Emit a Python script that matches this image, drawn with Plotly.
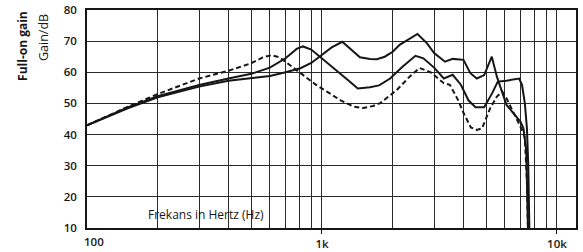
import plotly.graph_objects as go

# Curve A: solid, first peak ~820 Hz
freq_a = [100, 120, 150, 200, 250, 300, 400, 500, 600, 700, 780, 830, 900, 1000, 1100, 1200, 1300, 1420,
          1600, 1750, 1950, 2200, 2500, 2700, 3000, 3300, 3600, 3900, 4200, 4500, 4900, 5300, 5600, 6100,
          6500, 6900, 7100, 7300, 7450, 7550, 7650]
gain_a = [43, 45.5, 48.8, 52.3, 54.3, 55.9, 58, 59.5, 61.5, 64.5, 67.5, 68.3, 67.3, 64.5, 62, 59.7, 57.3, 54.8,
          55.2, 55.8, 58, 61.8, 65.3, 64.5, 61.5, 58, 59.2, 56, 51, 48.8, 48.8, 53.3, 57, 57.3,
          57.7, 58, 56, 50, 42, 30, 5]

# Curve B: solid, peaks ~1.2 kHz and ~2.5 kHz
freq_b = [100, 120, 150, 200, 250, 300, 400, 500, 600, 700, 810, 900, 980, 1100, 1220, 1300, 1450, 1600,
          1710, 1850, 2000, 2140, 2360, 2550, 2800, 3000, 3340, 3600, 4000, 4280, 4560, 4900, 5280, 5550,
          6100, 6600, 7000, 7200, 7400, 7550]
gain_b = [43, 45.5, 48.5, 52, 54, 55.4, 57.3, 58, 58.8, 60, 61.3, 63, 65, 68, 69.8, 68, 64.8, 64.3,
          64.2, 65, 66.6, 68.8, 70.9, 72.3, 69.3, 66.2, 63.4, 64.3, 64, 59.7, 58, 59.1, 65, 58.6,
          49.5, 46.3, 44.1, 42, 35, 5]

# Curve C: dashed, peak ~610 Hz
freq_c = [100, 120, 150, 200, 250, 300, 400, 500, 560, 610, 660, 710, 780, 860, 950, 1050, 1200, 1360,
          1500, 1650, 1770, 2080, 2360, 2600, 2900, 3300, 3500, 3800, 4000, 4300, 4560, 4800, 5200, 5550,
          5850, 6100, 6600, 7100, 7300, 7450, 7550]
gain_c = [43, 45.8, 49, 53, 55.8, 58, 60.5, 62.9, 64.8, 65.5, 64.8, 63, 60.5, 58, 55.8, 53.8, 51, 49,
          48.5, 49.2, 50.1, 54.3, 58.6, 61.4, 60, 56.5, 56, 51, 47, 42.3, 41.5, 42, 48.5, 52.2,
          53.8, 51.6, 46.3, 41.5, 39, 25, 5]

x_tickvals = [1000, 10000]
x_ticktext = ["1k", "10k"]
x_gridvals = [200, 300, 400, 500, 600, 700, 800, 900, 1000, 2000, 3000, 4000, 5000, 6000, 7000, 8000, 9000, 10000]
y_tickvals = [10, 20, 30, 40, 50, 60, 70, 80]

ink = "#161616"
fig = go.Figure()
fig.add_trace(go.Scatter(x=freq_a, y=gain_a, mode="lines", line=dict(color=ink, width=2), showlegend=False))
fig.add_trace(go.Scatter(x=freq_b, y=gain_b, mode="lines", line=dict(color=ink, width=2), showlegend=False))
fig.add_trace(go.Scatter(x=freq_c, y=gain_c, mode="lines", line=dict(color=ink, width=2, dash="5px,3px"),
                         showlegend=False))

font = "Open Sans"
fig.update_layout(
    width=583, height=252,
    margin=dict(l=87, r=7, t=10, b=24, autoexpand=False),
    paper_bgcolor="white", plot_bgcolor="white",
    xaxis=dict(type="log", range=[2, 4.081], tickvals=x_tickvals, ticktext=x_ticktext,
               showgrid=True, gridcolor="#2a2a2a", gridwidth=1, automargin=False,
               minor=dict(tickvals=x_gridvals, showgrid=True, gridcolor="#2a2a2a", gridwidth=1),
               ticks="outside", ticklen=4, tickcolor=ink,
               showline=True, linecolor=ink, linewidth=1.5, mirror=True,
               tickfont=dict(family=font, size=11.5, color=ink, weight=600), zeroline=False),
    yaxis=dict(range=[10, 80], tickvals=y_tickvals, showgrid=True, gridcolor="#2a2a2a", gridwidth=1,
               showline=True, linecolor=ink, linewidth=1.5, mirror=True, ticks="", automargin=False,
               ticklabelstandoff=6,
               tickfont=dict(family=font, size=11.5, color=ink, weight=600), zeroline=False),
    shapes=[dict(type="rect", xref="paper", yref="paper", x0=0.003, x1=0.36, y0=0.006, y1=0.137,
                 fillcolor="white", line=dict(width=0), layer="between")],
    annotations=[
        dict(text="Frekans in Hertz (Hz)", xref="paper", yref="paper", x=0.244, y=0.064,
             xanchor="center", yanchor="middle",
             showarrow=False, font=dict(family=font, size=12, color=ink)),
        dict(text="100", xref="paper", yref="paper", x=0.0, y=0, xshift=7, yshift=-13,
             xanchor="center", yanchor="middle", showarrow=False,
             font=dict(family=font, size=11.5, color=ink, weight=600)),
        dict(text="Full-on gain", xref="paper", yref="paper", x=-0.131, y=0.835, textangle=-90,
             xanchor="center", yanchor="middle",
             showarrow=False, font=dict(family=font, size=12, color=ink, weight=700)),
        dict(text="Gain/dB", xref="paper", yref="paper", x=-0.09, y=0.876, textangle=-90,
             xanchor="center", yanchor="middle",
             showarrow=False, font=dict(family=font, size=12.5, color=ink)),
    ],
)

fig.write_html("out.html", config={"displayModeBar": False},
               post_script="document.body.style.margin='0';document.body.style.overflow='hidden';")
